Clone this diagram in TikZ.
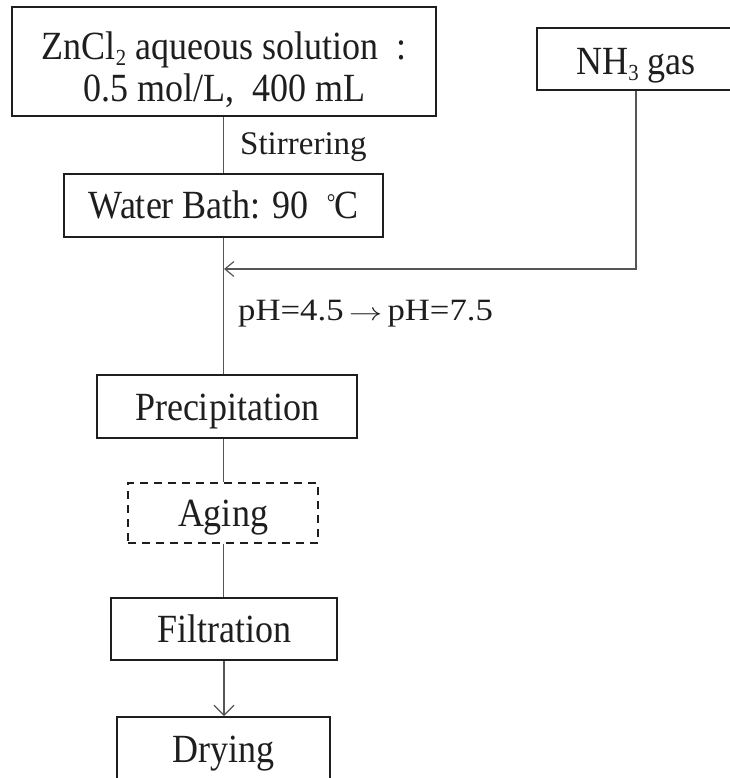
\documentclass[tikz,border=0pt]{standalone}
\usepackage{fontspec}
\setmainfont{Liberation Serif}
\newfontfamily\boxfont{Liberation Serif}[FakeStretch=0.9]
\newfontfamily\widefont{Liberation Serif}[FakeStretch=1.12]
\usetikzlibrary{arrows.meta}
\definecolor{ink}{RGB}{30,30,30}
\definecolor{wire}{RGB}{85,85,85}
\tikzset{
  procbox/.style={draw=ink, line width=2pt, text=ink, align=center, inner sep=0pt,
    font=\boxfont\fontsize{40}{37}\selectfont},
  dashbox/.style={procbox, line width=1.6pt, dash pattern=on 8pt off 6pt},
  wirel/.style={draw=wire, line width=1.2pt},
  lbl/.style={text=ink, inner sep=0pt, anchor=base west, font=\fontsize{33}{36}\selectfont},
  head/.style={-{Straight Barb[length=9pt,width=15pt,line width=1.2pt]}},
}
\newcommand{\sbs}[1]{\raisebox{-6pt}{\fontsize{23}{23}\selectfont #1}}
\newcommand{\bl}[2]{\raisebox{-#1pt}[0pt][0pt]{#2}}
\newcommand{\degC}{{\fontsize{24}{24}\selectfont\raisebox{8pt}{°}}\kern-1.5pt C}
\begin{document}
\begin{tikzpicture}[x=1pt,y=-1pt]
\useasboundingbox[fill=white] (0,0) rectangle (729,778);
\node[procbox, minimum width=424pt, minimum height=109pt] (zn) at (224,61.5)
  {\raisebox{1.5pt}[0pt][0pt]{\begin{tabular}[t]{@{}c@{}}ZnCl\sbs{2} aqueous solution \ :\\[3pt]0.5 mol/L, \ 400 mL\end{tabular}}};
\node[procbox, minimum width=198pt, minimum height=62pt] (nh3) at (636,59) {\bl{16}{NH\sbs{3} gas}};
\node[procbox, minimum width=319pt, minimum height=63pt] (wb) at (223.5,205.5)
  {\bl{13}{Water Bath: 90 \ \degC}};
\node[procbox, minimum width=260pt, minimum height=63pt] (prec) at (227,406.5) {\bl{14}{Precipitation}};
\node[dashbox, minimum width=190pt, minimum height=60pt] (aging) at (223,513) {\bl{13}{Aging}};
\node[procbox, minimum width=226pt, minimum height=62pt] (filt) at (224,629) {\bl{13}{Filtration}};
\node[procbox, minimum width=213pt, minimum height=62pt] (dry) at (223.5,748) {\bl{14}{Drying}};
\coordinate (join) at (224,269);
\node[lbl] (stir) at (240,154) {Stirrering};
\node[lbl, font=\widefont\fontsize{31}{36}\selectfont] (ph) at (238,320)
  {pH=4.5\,\scalebox{1.35}[1]{$\rightarrow$}\,pH=7.5};
\draw[wirel] (zn.south -| wb.south) -- (wb.north);
\draw[wirel] (wb.south) -- (wb.south |- prec.north);
\draw[wirel, head] (nh3.south) |- (join);
\draw[wirel] (wb.south |- prec.south) -- (wb.south |- aging.north);
\draw[wirel] (wb.south |- aging.south) -- (wb.south |- filt.north);
\draw[wirel, -{Straight Barb[length=10pt,width=20pt,line width=1.2pt]}] (filt.south) -- (filt.south |- dry.north);
\end{tikzpicture}
\end{document}
